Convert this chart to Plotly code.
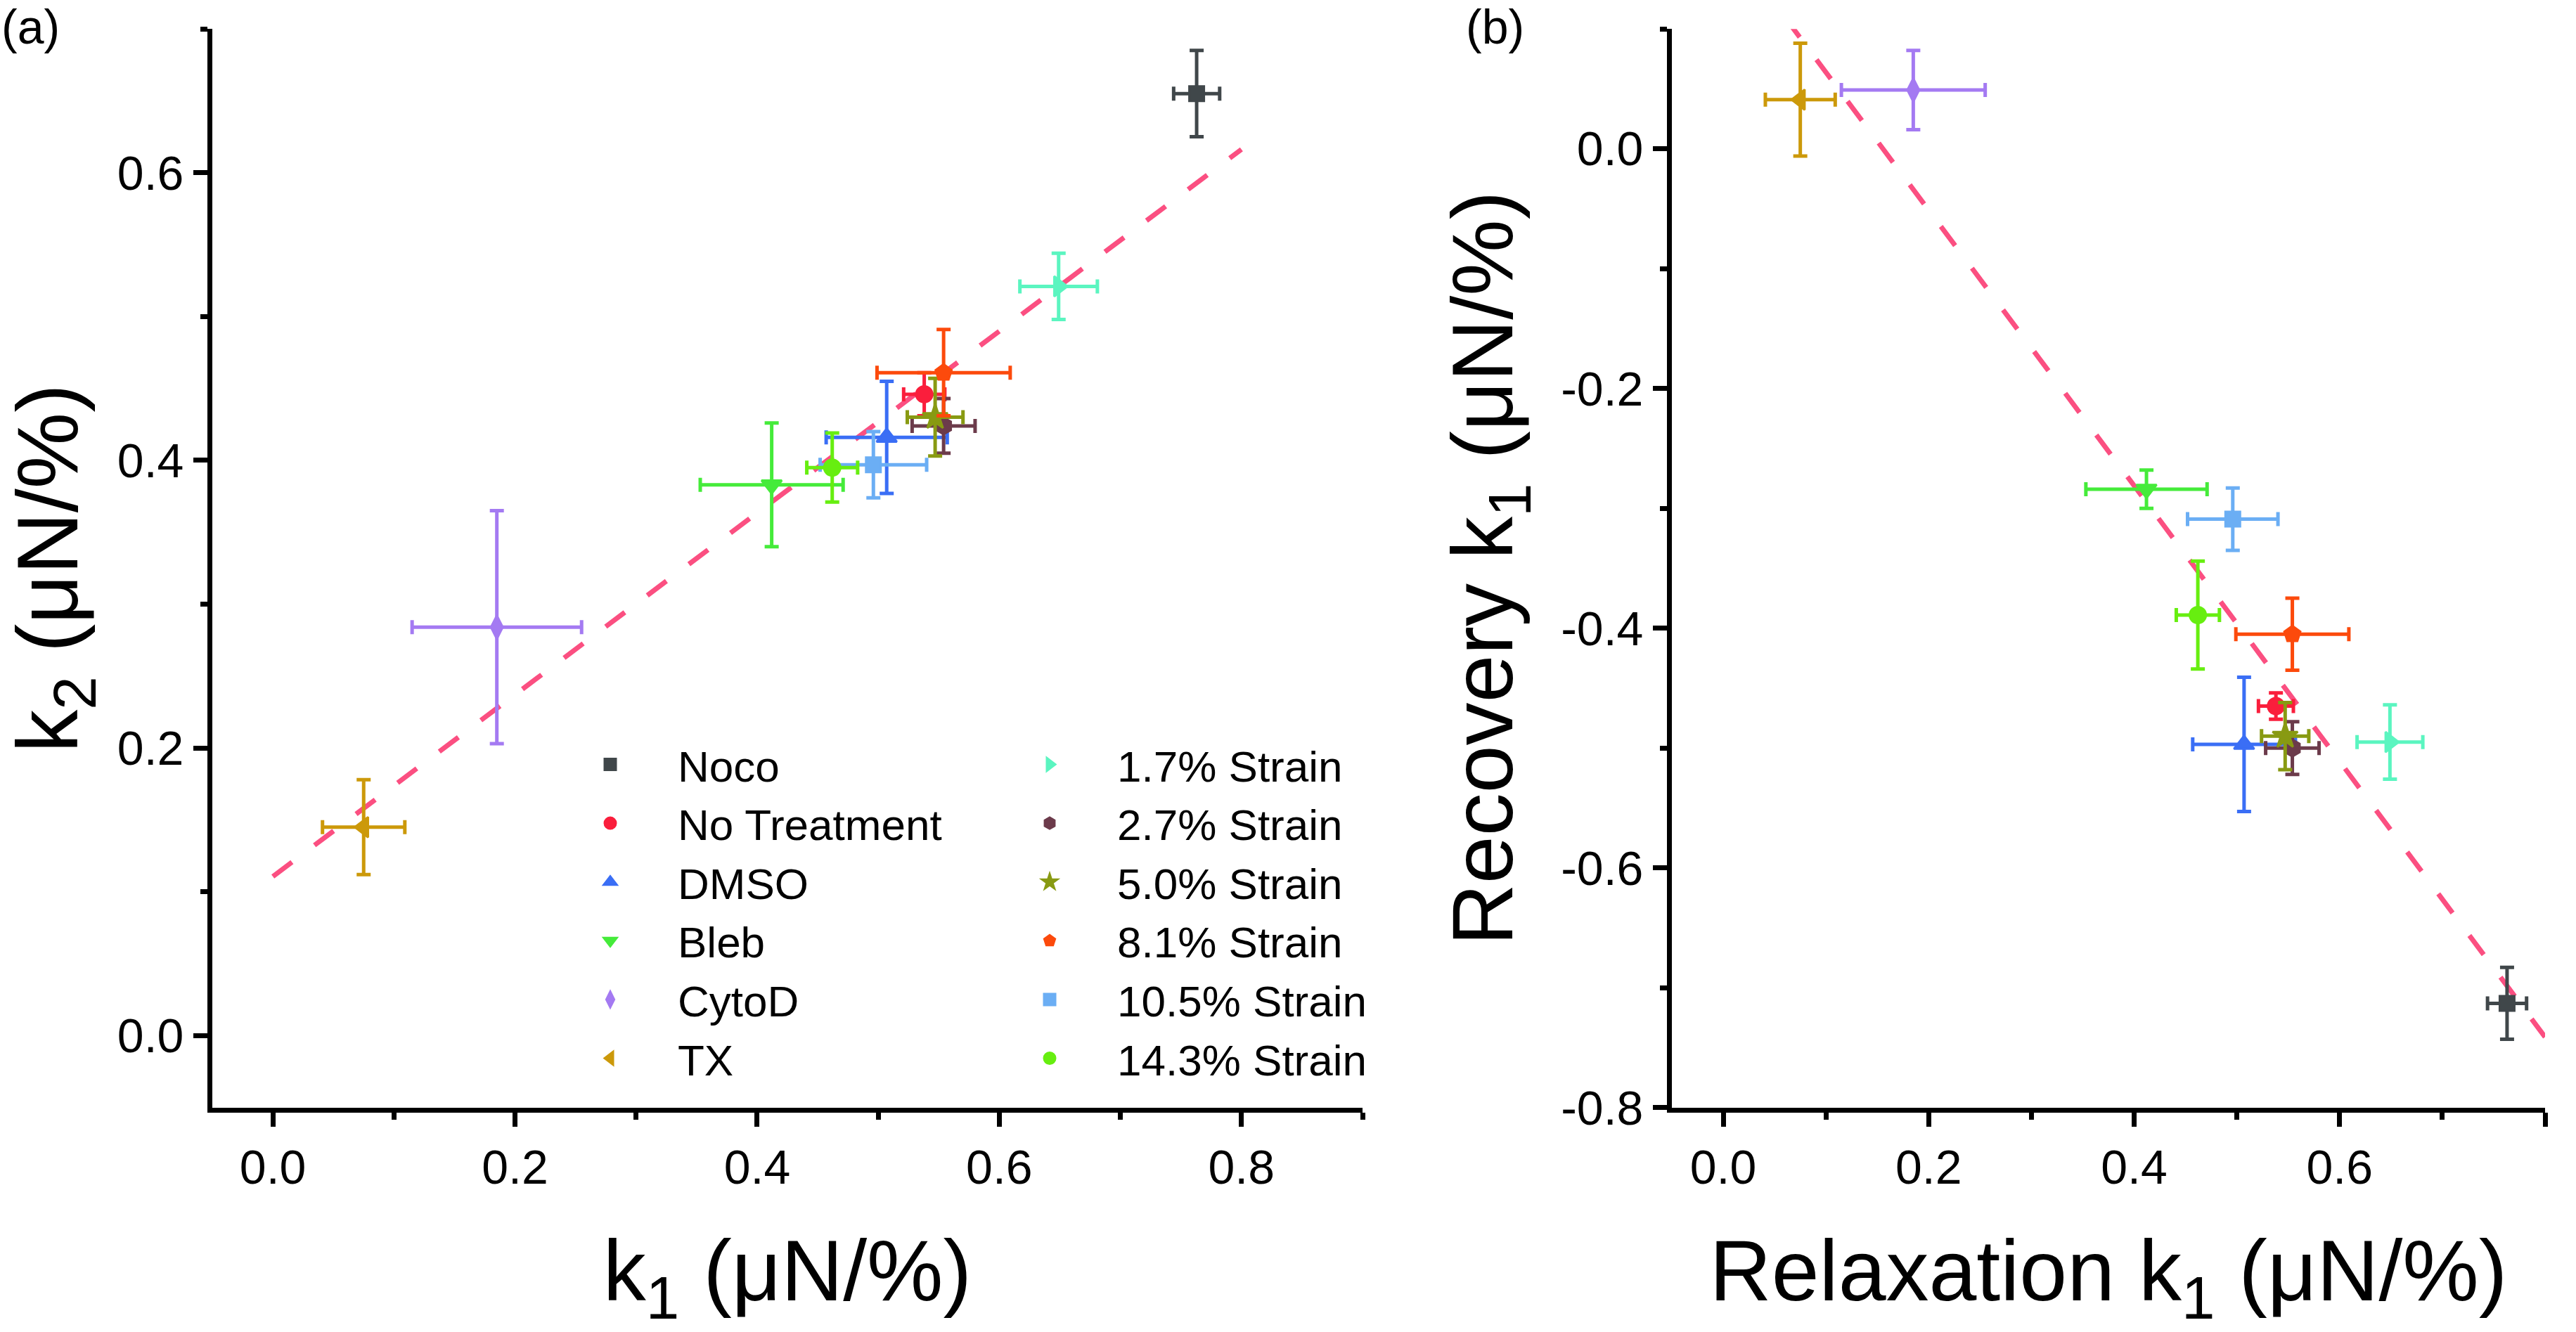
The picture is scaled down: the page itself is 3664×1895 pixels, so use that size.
import numpy as np
import plotly.graph_objects as go

# ---------------- data ----------------
groups = ["Noco", "No Treatment", "DMSO", "Bleb", "CytoD", "TX",
          "1.7% Strain", "2.7% Strain", "5.0% Strain", "8.1% Strain",
          "10.5% Strain", "14.3% Strain"]
relax_k1 = [0.763, 0.538, 0.507, 0.412, 0.185, 0.075,
            0.649, 0.554, 0.547, 0.554, 0.496, 0.462]
relax_k1_err = [0.019, 0.017, 0.050, 0.059, 0.070, 0.034,
                0.032, 0.026, 0.023, 0.055, 0.044, 0.021]
k2 = [0.655, 0.446, 0.416, 0.383, 0.284, 0.145,
      0.521, 0.424, 0.430, 0.461, 0.397, 0.395]
k2_err = [0.030, 0.015, 0.039, 0.043, 0.081, 0.033,
          0.023, 0.019, 0.027, 0.030, 0.023, 0.024]
recov_k1 = [-0.713, -0.465, -0.497, -0.284, 0.049, 0.041,
            -0.495, -0.500, -0.490, -0.405, -0.309, -0.389]
recov_k1_err = [0.030, 0.011, 0.056, 0.016, 0.033, 0.047,
                0.031, 0.022, 0.028, 0.030, 0.026, 0.045]

# ---------------- styles ----------------
colors = ["#40474A", "#FA1E3C", "#3A6EF5", "#45EB3A", "#A47AF2", "#CC990A",
          "#5BF5C0", "#6C3B4B", "#889A12", "#FC4A0C", "#6BAEF4", "#67EE10"]
symbols = ["square", "circle", "triangle-up", "triangle-down", "diamond-tall",
           "triangle-left", "triangle-right", "hexagon", "star", "pentagon",
           "square", "circle"]
marker_sizes = [21, 23, 25, 25, 24, 25, 25, 24, 27, 24, 21, 23]

fit_x = [0.0, 0.8]

a_x_ticks = [0.0, 0.2, 0.4, 0.6, 0.8]
a_x_ticktext = ["0.0", "0.2", "0.4", "0.6", "0.8"]
a_x_minor = [0.1, 0.3, 0.5, 0.7, 0.9]
a_y_ticks = [0.0, 0.2, 0.4, 0.6]
a_y_ticktext = ["0.0", "0.2", "0.4", "0.6"]
a_y_minor = [0.1, 0.3, 0.5, 0.7]
b_x_ticks = [0.0, 0.2, 0.4, 0.6, 0.8]
b_x_ticktext = ["0.0", "0.2", "0.4", "0.6", "0.8"]
b_x_minor = [0.1, 0.3, 0.5, 0.7]
b_y_ticks = [-0.8, -0.6, -0.4, -0.2, 0.0]
b_y_ticktext = ["-0.8", "-0.6", "-0.4", "-0.2", "0.0"]
b_y_minor = [-0.7, -0.5, -0.3, -0.1, 0.1]

FONT = "Liberation Sans, Arial, sans-serif"
FIT_COLOR = "#FB4F81"
W, H = 3664, 1895

fig = go.Figure()

# fit lines (least squares)
pa = np.polyfit(relax_k1, k2, 1)
pb = np.polyfit(relax_k1, recov_k1, 1)
fx = np.array(fit_x)
for p, xa, ya in [(pa, "x", "y"), (pb, "x2", "y2")]:
    fig.add_trace(go.Scatter(x=fx, y=np.polyval(p, fx), mode="lines",
                             line=dict(color=FIT_COLOR, width=7, dash="34px,40px"),
                             showlegend=False, hoverinfo="skip", xaxis=xa, yaxis=ya))

for i, g in enumerate(groups):
    c = colors[i]
    legend_name = "legend" if i < 6 else "legend2"
    mk = dict(symbol=symbols[i], size=marker_sizes[i], color=c, line=dict(width=3, color=c))
    ex = dict(type="data", array=[relax_k1_err[i]], color=c, thickness=5, width=10)
    fig.add_trace(go.Scatter(
        x=[relax_k1[i]], y=[k2[i]], mode="markers", name=g, marker=mk,
        error_x=ex,
        error_y=dict(type="data", array=[k2_err[i]], color=c, thickness=5, width=10),
        legend=legend_name, showlegend=True, xaxis="x", yaxis="y"))
    fig.add_trace(go.Scatter(
        x=[relax_k1[i]], y=[recov_k1[i]], mode="markers", name=g, marker=mk,
        error_x=ex,
        error_y=dict(type="data", array=[recov_k1_err[i]], color=c, thickness=5, width=10),
        showlegend=False, xaxis="x2", yaxis="y2"))

axis_common = dict(showline=True, linecolor="black", linewidth=7,
                   ticks="outside", ticklen=20, tickwidth=7, tickcolor="black",
                   showgrid=False, zeroline=False, mirror=False,
                   tickfont=dict(size=68, family=FONT, color="black"),
                   title_font=dict(size=122, family=FONT, color="black"))


def minor(vals):
    return dict(tickmode="array", tickvals=vals, ticks="outside", ticklen=10,
                tickwidth=7, tickcolor="black", showgrid=False)


ydom = [1 - 1608 / H, 1 - 42 / H]
legend_font = dict(size=62, family=FONT, color="black")
fig.update_layout(
    width=W, height=H, plot_bgcolor="white", paper_bgcolor="white",
    margin=dict(l=0, r=0, t=0, b=0),
    font=dict(family=FONT, color="black"),
    xaxis=dict(axis_common, domain=[302 / W, 1938 / W], range=[-0.05, 0.9], anchor="y",
               tickmode="array", tickvals=a_x_ticks, ticktext=a_x_ticktext,
               minor=minor(a_x_minor),
               title=dict(text="k<sub>1</sub> (μN/%)", standoff=70)),
    yaxis=dict(axis_common, domain=ydom, range=[-0.05, 0.70], anchor="x",
               tickmode="array", tickvals=a_y_ticks, ticktext=a_y_ticktext,
               minor=minor(a_y_minor),
               title=dict(text="k<sub>2</sub> (μN/%)", standoff=30)),
    xaxis2=dict(axis_common, domain=[2378 / W, 3620 / W], range=[-0.05, 0.8], anchor="y2",
                tickmode="array", tickvals=b_x_ticks, ticktext=b_x_ticktext,
                minor=minor(b_x_minor),
                title=dict(text="Relaxation k<sub>1</sub> (μN/%)", standoff=70)),
    yaxis2=dict(axis_common, domain=ydom, range=[-0.8, 0.1], anchor="x2",
                tickmode="array", tickvals=b_y_ticks, ticktext=b_y_ticktext,
                minor=minor(b_y_minor),
                title=dict(text="Recovery k<sub>1</sub> (μN/%)", standoff=30)),
    legend=dict(x=772 / W, y=1 - 1062 / H, xanchor="left", yanchor="top",
                bgcolor="rgba(0,0,0,0)", itemwidth=182, font=legend_font),
    legend2=dict(x=1397 / W, y=1 - 1062 / H, xanchor="left", yanchor="top",
                 bgcolor="rgba(0,0,0,0)", itemwidth=182, font=legend_font),
    annotations=[
        dict(text="(a)", x=0, y=1, xref="paper", yref="paper", xanchor="left",
             yanchor="top", showarrow=False, yshift=2,
             font=dict(size=68, family=FONT, color="black")),
        dict(text="(b)", x=2083 / W, y=1, xref="paper", yref="paper", xanchor="left",
             yanchor="top", showarrow=False, yshift=2,
             font=dict(size=68, family=FONT, color="black")),
    ],
)

fig.write_html("out.html", config={"displayModeBar": False},
               post_script="document.body.style.margin='0';")
